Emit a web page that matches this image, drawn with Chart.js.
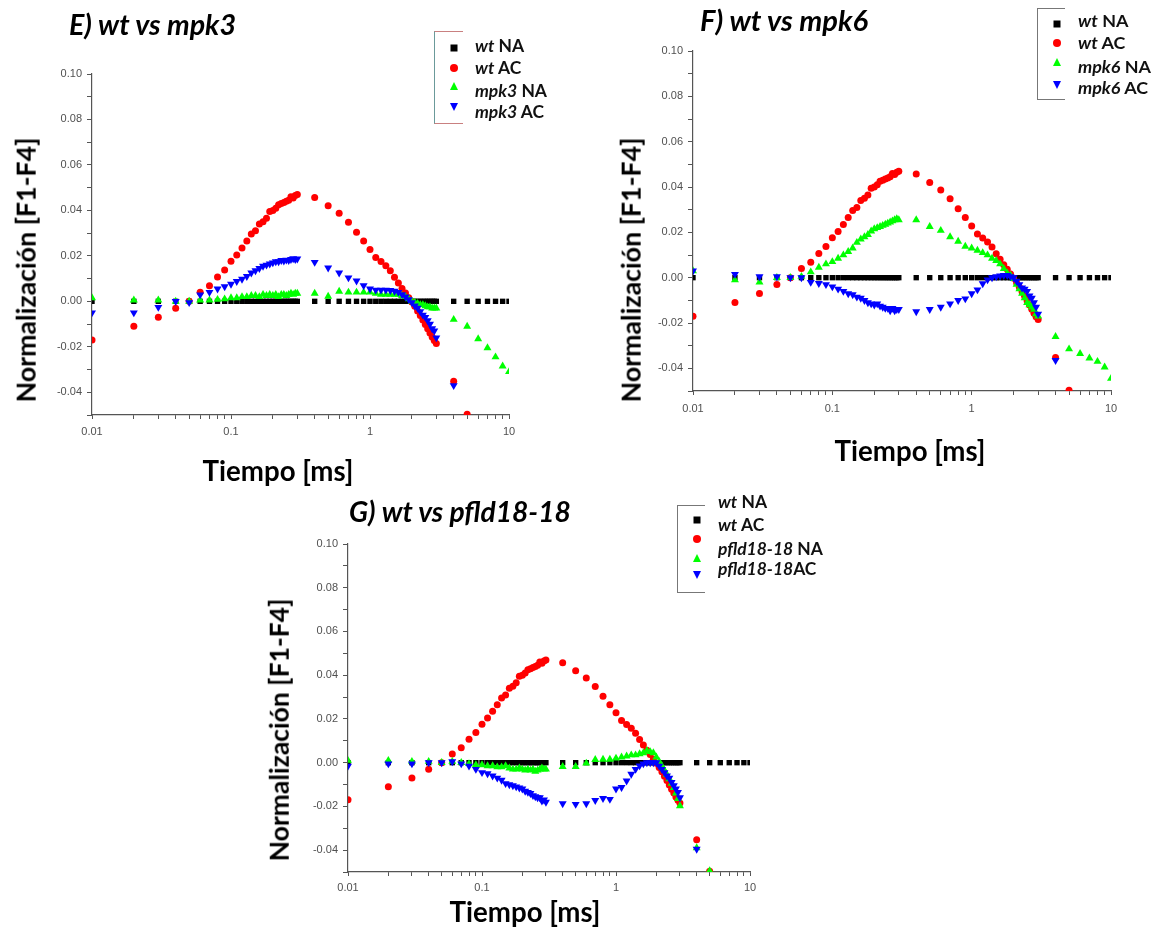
<!DOCTYPE html>
<html><head><meta charset="utf-8">
<script src="https://cdn.jsdelivr.net/npm/chart.js@4.4.1/dist/chart.umd.min.js"></script>
<style>
html,body{margin:0;padding:0;background:#fff;}
#root{position:relative;width:1156px;height:928px;overflow:hidden;background:#fff;font-family:Lato,'Open Sans',sans-serif;}
canvas{position:absolute;}
.t{position:absolute;white-space:nowrap;font-weight:bold;color:#000;line-height:1;font-family:Lato,'Open Sans',sans-serif;}
.ttl{font-style:italic;}
.lbox{position:absolute;border-left:1px solid #777;border-top:1px solid #777;border-bottom:1px solid #777;}
.lt{position:absolute;white-space:nowrap;font-weight:bold;line-height:1;transform:translateY(-50%);color:#111;}
.lt i{font-style:italic;}
.mk{position:absolute;transform:translate(-50%,-50%);}
.sq{width:7px;height:7px;background:#000;}
.ci{width:8px;height:8px;border-radius:50%;background:#ff0000;}
.tu{width:0;height:0;border-left:4.5px solid transparent;border-right:4.5px solid transparent;border-bottom:8px solid #00ff00;}
.td{width:0;height:0;border-left:4.5px solid transparent;border-right:4.5px solid transparent;border-top:8px solid #0000ff;}
</style></head>
<body>
<div id="root">
  <canvas id="cE" width="560" height="480" style="left:0;top:0"></canvas>
  <canvas id="cF" width="556" height="440" style="left:600px;top:0"></canvas>
  <canvas id="cG" width="540" height="440" style="left:250px;top:480px"></canvas>

  <div class="t ttl fitw" data-w="167" style="left:69px;top:24px;transform:translateY(-50%)">E) wt vs mpk3</div>
  <div class="t ttl fitw" data-w="168" style="left:700px;top:20px;transform:translateY(-50%)">F) wt vs mpk6</div>
  <div class="t ttl fitw" data-w="222" style="left:349px;top:511px;transform:translateY(-50%)">G) wt vs pfld18-18</div>

  <div class="t fitw" data-w="265" style="left:26px;top:270px;transform:translate(-50%,-50%) rotate(-90deg)">Normalización [F1-F4]</div>
  <div class="t fitw" data-w="265" style="left:631px;top:270px;transform:translate(-50%,-50%) rotate(-90deg)">Normalización [F1-F4]</div>
  <div class="t fitw" data-w="263" style="left:279px;top:730px;transform:translate(-50%,-50%) rotate(-90deg)">Normalización [F1-F4]</div>

  <div class="t fitw" data-w="151" style="left:278px;top:471px;transform:translate(-50%,-50%)">Tiempo [ms]</div>
  <div class="t fitw" data-w="151" style="left:910px;top:451px;transform:translate(-50%,-50%)">Tiempo [ms]</div>
  <div class="t fitw" data-w="151" style="left:525px;top:912px;transform:translate(-50%,-50%)">Tiempo [ms]</div>

  <!-- legend E -->
  <div class="lbox" style="left:434px;top:31px;width:28px;height:91px;border-left-color:#6b9a9a;border-top-color:#c98080;border-bottom-color:#c98080"></div>
  <div class="mk sq" style="left:454px;top:48px"></div>
  <div class="mk ci" style="left:454px;top:68px"></div>
  <div class="mk tu" style="left:454px;top:86px"></div>
  <div class="mk td" style="left:454px;top:107px"></div>
  <div class="lt legE" style="left:475px;top:46px"><i>wt</i> NA</div>
  <div class="lt legE" style="left:475px;top:68px"><i>wt</i> AC</div>
  <div class="lt legE ref" data-w="72" style="left:475px;top:91px"><i>mpk3</i> NA</div>
  <div class="lt legE" style="left:475px;top:112px"><i>mpk3</i> AC</div>

  <!-- legend F -->
  <div class="lbox" style="left:1037px;top:8px;width:27px;height:90px"></div>
  <div class="mk sq" style="left:1057px;top:24px"></div>
  <div class="mk ci" style="left:1057px;top:43px"></div>
  <div class="mk tu" style="left:1057px;top:62px"></div>
  <div class="mk td" style="left:1057px;top:85px"></div>
  <div class="lt legF" style="left:1078px;top:21px"><i>wt</i> NA</div>
  <div class="lt legF" style="left:1078px;top:43px"><i>wt</i> AC</div>
  <div class="lt legF ref" data-w="73" style="left:1078px;top:67px"><i>mpk6</i> NA</div>
  <div class="lt legF" style="left:1078px;top:88px"><i>mpk6</i> AC</div>

  <!-- legend G -->
  <div class="lbox" style="left:677px;top:505px;width:27px;height:86px"></div>
  <div class="mk sq" style="left:697px;top:520px"></div>
  <div class="mk ci" style="left:697px;top:539px"></div>
  <div class="mk tu" style="left:697px;top:558px"></div>
  <div class="mk td" style="left:697px;top:575px"></div>
  <div class="lt legG" style="left:718px;top:502px"><i>wt</i> NA</div>
  <div class="lt legG" style="left:718px;top:525px"><i>wt</i> AC</div>
  <div class="lt legG ref" data-w="105" style="left:718px;top:549px"><i>pfld18-18</i> NA</div>
  <div class="lt legG" style="left:718px;top:569px"><i>pfld18-18</i>AC</div>
</div>
<script>
// ---- data ----
const xTime = [0.01,0.02,0.03,0.04,0.05,0.06,0.07,0.08,0.09,0.10,
  0.11,0.12,0.13,0.14,0.15,0.16,0.17,0.18,0.19,0.20,
  0.21,0.22,0.23,0.24,0.25,0.26,0.27,0.28,0.29,0.30,
  0.4,0.5,0.6,0.7,0.8,0.9,1.0,1.1,1.2,1.3,
  1.4,1.5,1.6,1.7,1.8,1.9,2.0,2.1,2.2,2.3,
  2.4,2.5,2.6,2.7,2.8,2.9,3.0,
  4,5,6,7,8,9,10];

const wtNA = [0,0,0,0,0,0,0,0,0,0,
  0,0,0,0,0,0,0,0,0,0,
  0,0,0,0,0,0,0,0,0,0,
  0,0,0,0,0,0,0,0,0,0,
  0,0,0,0,0,0,0,0,0,0,
  0,0,0,0,0,0,0,
  0,0,0,0,0,0,0];

const wtAC = [-0.017,-0.011,-0.007,-0.003,0.0,0.004,0.0068,0.0107,0.0138,0.0176,
  0.0204,0.0235,0.0265,0.0296,0.031,0.034,0.035,0.0365,0.0395,0.040,
  0.041,0.0425,0.043,0.0435,0.044,0.0445,0.046,0.0455,0.0465,0.047,
  0.0457,0.042,0.0387,0.0348,0.0304,0.0265,0.0228,0.0193,0.0175,0.0157,
  0.0135,0.0106,0.0081,0.0057,0.0037,0.0016,-0.0003,-0.0022,-0.0042,-0.0062,
  -0.0082,-0.0102,-0.0121,-0.0139,-0.0157,-0.0172,-0.0185,
  -0.0352,-0.0497,null,null,null,null,null];

const mpk3NA = [0.0015,0.0005,0.0005,0.0,0.0,0.0005,0.0005,0.0008,0.001,0.0015,
  0.0015,0.002,0.002,0.0025,0.0025,0.002,0.003,0.0025,0.003,0.0025,
  0.003,0.002,0.003,0.003,0.0025,0.003,0.0035,0.003,0.0035,0.0035,
  0.0035,0.0022,0.0044,0.004,0.004,0.004,0.004,0.0035,0.003,0.003,
  0.003,0.003,0.003,0.0025,0.002,0.001,0.0,-0.0005,-0.001,-0.0015,
  -0.0015,-0.002,-0.0025,-0.0025,-0.003,-0.003,-0.003,
  -0.008,-0.011,-0.0165,-0.0205,-0.0245,-0.0285,-0.031];

const mpk3AC = [-0.005,-0.005,-0.0026,0.0,-0.0005,0.0029,0.004,0.0055,0.0065,0.0076,
  0.0088,0.0098,0.011,0.0125,0.0135,0.0145,0.0155,0.016,0.0165,0.017,
  0.0175,0.0175,0.018,0.0178,0.0182,0.018,0.0185,0.0188,0.0185,0.0187,
  0.0172,0.0147,0.0125,0.0104,0.009,0.0069,0.0055,0.005,0.005,0.005,
  0.0048,0.0045,0.004,0.003,0.002,0.0008,-0.0005,-0.002,-0.003,-0.0045,
  -0.006,-0.007,-0.0085,-0.010,-0.012,-0.013,-0.016,
  -0.037,null,null,null,null,null,null];

const mpk6NA = [0.003,-0.001,-0.002,0.0,0.0,0.0005,0.0025,0.0045,0.006,0.007,
  0.0085,0.010,0.0115,0.013,0.0155,0.017,0.018,0.019,0.0205,0.0215,
  0.022,0.0225,0.023,0.0235,0.024,0.0245,0.025,0.0255,0.026,0.0255,
  0.0255,0.0225,0.0208,0.018,0.016,0.0138,0.013,0.012,0.011,0.010,
  0.0085,0.0075,0.006,0.004,0.002,0.001,-0.0005,-0.003,-0.005,-0.007,
  -0.009,-0.011,-0.012,-0.013,-0.014,-0.016,-0.017,
  -0.026,-0.0315,-0.0335,-0.0355,-0.037,-0.0395,-0.0445];

const mpk6AC = [0.003,0.0015,0.0005,0.0005,0.0,0.0,-0.002,-0.0025,-0.003,-0.004,
  -0.005,-0.006,-0.007,-0.0075,-0.0085,-0.009,-0.010,-0.011,-0.0115,-0.012,
  -0.0115,-0.0125,-0.013,-0.0135,-0.0135,-0.0145,-0.0135,-0.0145,-0.014,-0.014,
  -0.015,-0.014,-0.013,-0.0115,-0.010,-0.0093,-0.007,-0.0053,-0.0026,-0.0009,
  0.0,0.0005,0.0008,0.001,0.001,0.0005,0.0,-0.0015,-0.003,-0.0045,
  -0.005,-0.006,-0.008,-0.009,-0.011,-0.013,-0.016,
  -0.0365,null,null,null,null,null,null];

const pfldNA = [0.001,0.001,0.0005,0.0005,0.0,0.0005,0.0,-0.0005,-0.001,-0.001,
  -0.0015,-0.0015,-0.002,-0.002,-0.0015,-0.0025,-0.003,-0.003,-0.0025,-0.003,
  -0.0035,-0.003,-0.0035,-0.003,-0.004,-0.0035,-0.003,-0.0025,-0.003,-0.003,
  -0.0018,-0.0018,-0.0003,0.0014,0.0015,0.0015,0.002,0.0025,0.003,0.0035,
  0.0035,0.004,0.0045,0.0055,0.005,0.0045,0.0025,0.0005,-0.0015,-0.0035,
  -0.0055,-0.0075,-0.0095,-0.0115,-0.014,-0.0165,-0.0198,
  -0.039,-0.0495,null,null,null,null,null];

const pfldAC = [-0.0015,-0.0005,-0.0005,0.0,0.0,0.0005,-0.0005,-0.0015,-0.003,-0.0045,
  -0.005,-0.006,-0.007,-0.008,-0.0095,-0.010,-0.0105,-0.011,-0.0115,-0.012,
  -0.013,-0.0135,-0.014,-0.015,-0.0155,-0.016,-0.016,-0.0175,-0.017,-0.018,
  -0.0187,-0.019,-0.0187,-0.0172,-0.0163,-0.0167,-0.012,-0.0113,-0.0083,-0.0052,
  -0.003,-0.0014,-0.0005,0.0,0.0,0.0,0.0,-0.0015,-0.003,-0.0045,
  -0.006,-0.007,-0.009,-0.0105,-0.012,-0.0135,-0.016,
  -0.0395,null,null,null,null,null,null];

const xTicks = [0.01,0.02,0.03,0.04,0.05,0.06,0.07,0.08,0.09,
  0.1,0.2,0.3,0.4,0.5,0.6,0.7,0.8,0.9,
  1,2,3,4,5,6,7,8,9,10];
const xTickLabels = ['0.01','','','','','','','','',
  '0.1','','','','','','','','',
  '1','','','','','','','','','10'];
const yTicks = [-0.05,-0.04,-0.03,-0.02,-0.01,0.0,0.01,0.02,0.03,0.04,0.05,0.06,0.07,0.08,0.09,0.10];
const yTickLabels = ['','-0.04','','-0.02','','0.00','','0.02','','0.04','','0.06','','0.08','','0.10'];

const seriesNamesE = ['wt NA','wt AC','mpk3 NA','mpk3 AC'];
const seriesNamesF = ['wt NA','wt AC','mpk6 NA','mpk6 AC'];
const seriesNamesG = ['wt NA','wt AC','pfld18-18 NA','pfld18-18AC'];

// ---- text fitting ----
document.querySelectorAll('.fitw').forEach(el => {
  el.style.fontSize = '100px';
  const w = el.offsetWidth;
  el.style.fontSize = (100 * (+el.dataset.w) / w) + 'px';
});
['legE','legF','legG'].forEach(cls => {
  const ref = document.querySelector('.' + cls + '.ref');
  ref.style.fontSize = '100px';
  const w = ref.offsetWidth;
  const fs = 100 * (+ref.dataset.w) / w;
  document.querySelectorAll('.' + cls).forEach(el => el.style.fontSize = fs + 'px');
});

// ---- charts ----
const pts = arr => xTime.map((x, i) => ({x: x, y: arr[i]})).filter(p => p.y !== null);
const AX = '#555';
function makeChart(id, names, greenY, blueY, geo) {
  return new Chart(document.getElementById(id), {
    type: 'scatter',
    data: {datasets: [
      {label: names[0], data: pts(wtNA), pointStyle: 'rect', pointRadius: 3.8, pointBackgroundColor: '#000', pointBorderWidth: 0, order: 4, clip: 0},
      {label: names[1], data: pts(wtAC), pointStyle: 'circle', pointRadius: 3.5, pointBackgroundColor: '#ff0000', pointBorderWidth: 0, order: 3, clip: 0},
      {label: names[2], data: pts(greenY), pointStyle: 'triangle', pointRadius: 4.6, pointBackgroundColor: '#00ff00', pointBorderWidth: 0, order: 2, clip: 0},
      {label: names[3], data: pts(blueY), pointStyle: 'triangle', pointRotation: 180, pointRadius: 4.6, pointBackgroundColor: '#0000ff', pointBorderWidth: 0, order: 1, clip: 0}
    ]},
    options: {
      responsive: false, animation: false, devicePixelRatio: 1,
      events: [],
      layout: {padding: {top: geo.top, right: geo.right, left: 0, bottom: 0}},
      plugins: {legend: {display: false}, tooltip: {enabled: false}},
      scales: {
        x: {
          type: 'logarithmic', min: 0.01, max: 10,
          afterFit: s => { s.height = geo.xh; },
          afterBuildTicks: s => { s.ticks = xTicks.map(v => ({value: v})); },
          ticks: {autoSkip: false, maxRotation: 0, minRotation: 0, padding: geo.xpad, color: '#505050',
                  font: {family: 'Liberation Sans', size: 11}, callback: (v, i) => xTickLabels[i]},
          grid: {drawOnChartArea: false, tickLength: 4, color: AX},
          border: {color: AX, width: 1.2}
        },
        y: {
          type: 'linear', min: -0.05, max: 0.10,
          afterFit: s => { s.width = geo.yw; },
          afterBuildTicks: s => { s.ticks = yTicks.map(v => ({value: v})); },
          ticks: {autoSkip: false, padding: geo.ypad, color: '#505050',
                  font: {family: 'Liberation Sans', size: 11}, callback: (v, i) => yTickLabels[i]},
          grid: {drawOnChartArea: false, tickLength: 5, color: AX},
          border: {color: AX, width: 1.2}
        }
      }
    }
  });
}
makeChart('cE', seriesNamesE, mpk3NA, mpk3AC, {top: 74, right: 51, yw: 92, xh: 65, xpad: 6, ypad: 5});
makeChart('cF', seriesNamesF, mpk6NA, mpk6AC, {top: 51, right: 45, yw: 93, xh: 49, xpad: 7, ypad: 5});
makeChart('cG', seriesNamesG, pfldNA, pfldAC, {top: 64, right: 40, yw: 98, xh: 48, xpad: 5, ypad: 5});
</script>
</body></html>
